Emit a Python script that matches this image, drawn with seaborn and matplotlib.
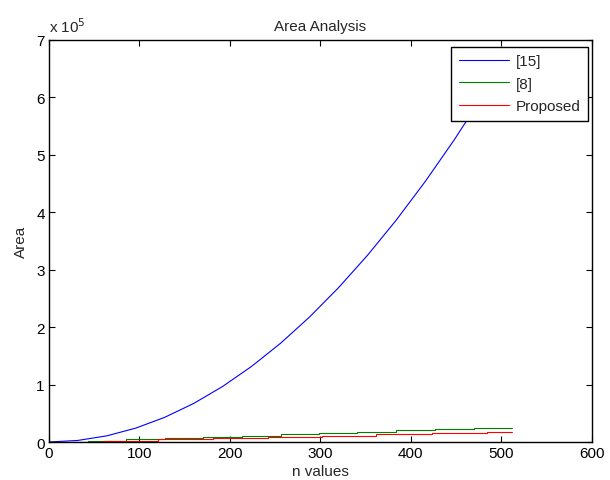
import numpy as np
import pandas as pd
import seaborn as sns
import matplotlib
matplotlib.use('Agg')
import matplotlib.pyplot as plt
from matplotlib.ticker import FuncFormatter

# values
n_ref15 = [0, 32, 64, 96, 128, 160, 192, 224, 256, 288, 320, 352, 384, 416, 448, 480, 512]
area_ref15 = [0, 2700, 10700, 24100, 42900, 67000, 96600, 131500, 171700, 217300,
              268300, 324600, 386300, 453400, 525800, 603600, 686800]

n_ref8 = [0, 43, 85, 128, 170, 214, 257, 299, 341, 384, 427, 470, 512]
area_ref8 = [0, 2240, 4480, 6720, 8960, 11200, 13440, 15680, 17920, 20160, 22400, 24640, 24640]

n_prop = [0, 60, 121, 181, 242, 302, 362, 423, 484, 512]
area_prop = [0, 2190, 4380, 6570, 8760, 10950, 13140, 15330, 17520, 17520]

sns.set_style('ticks')
plt.rcParams['font.family'] = ['Liberation Sans', 'DejaVu Sans']

fig = plt.figure(figsize=(6.1, 4.81), dpi=100)
ax = fig.add_axes([0.080, 0.079, 0.890, 0.836])

sns.lineplot(x=n_ref15, y=area_ref15, ax=ax, color='#0000ff', linewidth=0.8, label='[15]')
sns.lineplot(x=n_ref8, y=area_ref8, ax=ax, color='#008000', linewidth=0.8,
             drawstyle='steps-post', label='[8]')
sns.lineplot(x=n_prop, y=area_prop, ax=ax, color='#ff0000', linewidth=0.8,
             drawstyle='steps-post', label='Proposed')

ax.set_xlim(0, 600)
ax.set_ylim(0, 7e5)
ax.set_xticks(range(0, 601, 100))
ax.set_yticks(np.arange(0, 7.01e5, 1e5))
ax.yaxis.set_major_formatter(FuncFormatter(lambda v, p: '%d' % round(v / 1e5)))
ax.tick_params(direction='in', length=4, width=0.8, top=True, right=True,
               labelsize=11, colors='black', pad=3)
for s in ax.spines.values():
    s.set_visible(True)
    s.set_linewidth(1.0)
    s.set_color('black')

ax.set_title('Area Analysis', fontsize=11, pad=7)
ax.set_xlabel('n values', fontsize=11, labelpad=3)
ax.set_ylabel('Area', fontsize=11, labelpad=6)
ax.text(0.0, 1.012, r'x 10$^{5}$', transform=ax.transAxes, fontsize=11,
        ha='left', va='bottom')

leg = ax.legend(loc='upper right', bbox_to_anchor=(0.993, 0.983), fontsize=11,
                frameon=True, fancybox=False, framealpha=1, edgecolor='black',
                handlelength=3.3, handletextpad=0.4, borderpad=0.5,
                labelspacing=0.55, borderaxespad=0)
leg.get_frame().set_linewidth(1.0)

fig.savefig('out.png', dpi=100)
